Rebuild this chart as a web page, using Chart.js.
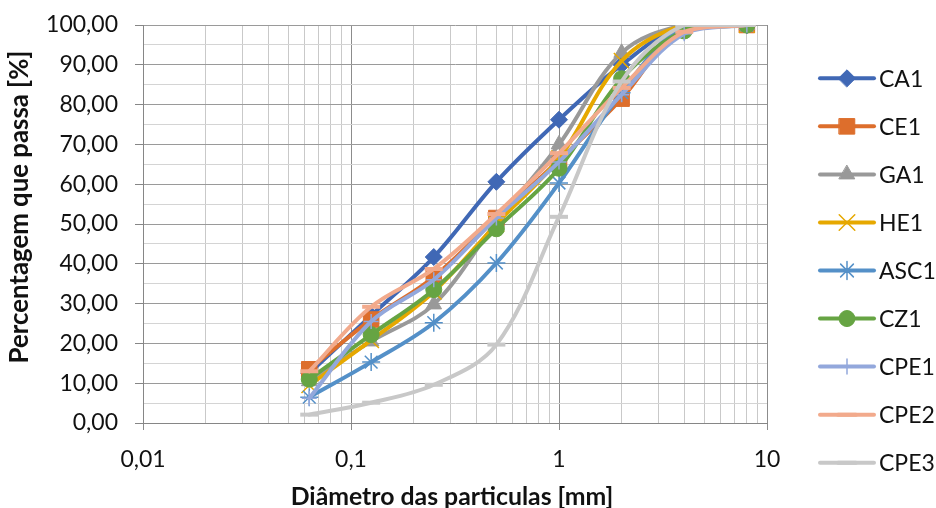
<!DOCTYPE html>
<html><head><meta charset="utf-8">
<script src="https://cdn.jsdelivr.net/npm/chart.js@4/dist/chart.umd.min.js"></script>
<style>html,body{margin:0;padding:0;background:#fff;overflow:hidden}</style>
</head><body>
<canvas id="c" width="936" height="508" style="width:936px;height:508px;display:block"></canvas>
<script>
// ---- data ----
const sieveSizes = [0.063, 0.125, 0.25, 0.5, 1, 2, 4, 8];
const seriesNames = ['CA1','CE1','GA1','HE1','ASC1','CZ1','CPE1','CPE2','CPE3'];
const CA1  = [12.5, 27.0, 41.7, 60.6, 76.2, 90.0, 100.0, 100.0];
const CE1  = [13.5, 26.0, 36.7, 51.5, 66.0, 81.5, 99.8, 100.0];
const GA1  = [10.5, 20.5, 29.8, 50.5, 70.0, 93.0, 100.0, 100.0];
const HE1  = [9.5, 20.8, 33.0, 50.0, 66.5, 91.0, 100.0, 100.0];
const ASC1 = [6.5, 15.3, 25.2, 40.2, 60.3, 83.0, 100.0, 100.0];
const CZ1  = [11.0, 22.2, 33.5, 48.8, 64.0, 86.5, 98.5, 100.0];
const CPE1 = [6.2, 25.5, 36.0, 51.5, 65.6, 82.5, 97.8, 100.0];
const CPE2 = [13.0, 29.2, 38.7, 52.5, 67.8, 84.2, 98.3, 100.0];
const CPE3 = [2.1, 5.1, 9.6, 19.7, 51.8, 85.8, 100.0, 100.0];
const xTickLabels = {0.01: '0,01', 0.1: '0,1', 1: '1', 10: '10'};
const yTickStep = 5;
const xTitle = 'Diâmetro das particulas [mm]';
const yTitle = 'Percentagem que passa [%]';

// ---- styles ----
const seriesValues = [CA1, CE1, GA1, HE1, ASC1, CZ1, CPE1, CPE2, CPE3];
const styles = [
  {color:'#4068B5', point:'rectRot',  r:8.5, bw:1},
  {color:'#DD6E2C', point:'rect',     r:11,  bw:1},
  {color:'#999999', point:'triangle', r:9,   bw:1},
  {color:'#E6A800', point:'crossRot', r:11,  bw:1.5},
  {color:'#5490C8', point:'star',     r:9,   bw:1.5},
  {color:'#66A443', point:'circle',   r:8,   bw:1},
  {color:'#93A8DC', point:'cross',    r:7.5, bw:1.5},
  {color:'#F2AA8C', point:'line',     r:9,   bw:4},
  {color:'#C8C8C8', point:'line',     r:9,   bw:4}
];
const FONT = 'Lato';

const datasets = seriesNames.map((name, i) => ({
  label: name,
  data: sieveSizes.map((x, j) => ({x: x, y: seriesValues[i][j]})),
  borderColor: styles[i].color,
  backgroundColor: styles[i].color,
  pointBackgroundColor: styles[i].color,
  pointBorderColor: styles[i].color,
  pointStyle: styles[i].point,
  pointRadius: styles[i].r,
  pointHoverRadius: styles[i].r,
  pointBorderWidth: styles[i].bw,
  borderWidth: 4,
  borderCapStyle: 'round',
  borderJoinStyle: 'round',
  tension: 0.35,
  fill: false,
  order: -i
}));

const customDraw = {
  id: 'customDraw',
  afterDraw(chart) {
    const ctx = chart.ctx;
    ctx.save();
    // legend
    const y0 = 78.3, dy = 48.05;
    ctx.font = '23px ' + FONT;
    ctx.textBaseline = 'middle';
    ctx.textAlign = 'left';
    chart.data.datasets.forEach((ds, i) => {
      const y = y0 + i * dy;
      const st = styles[i];
      ctx.strokeStyle = st.color;
      ctx.lineWidth = 4;
      ctx.lineCap = 'round';
      ctx.beginPath(); ctx.moveTo(820, y); ctx.lineTo(874, y); ctx.stroke();
      ctx.fillStyle = st.color;
      ctx.lineWidth = st.bw;
      Chart.helpers.drawPoint(ctx, {pointStyle: st.point, rotation: 0, radius: st.r, borderWidth: st.bw}, 847, y);
      ctx.fillStyle = '#111';
      ctx.fillText(ds.label, 879, y + 1);
    });
    // axis titles
    ctx.fillStyle = '#111';
    ctx.textBaseline = 'alphabetic';
    ctx.textAlign = 'center';
    ctx.font = 'bold 20px ' + FONT;
    let w = ctx.measureText(xTitle).width;
    let fs = 20 * 323 / w;
    ctx.font = 'bold ' + fs.toFixed(1) + 'px ' + FONT;
    ctx.fillText(xTitle, 452, 505);
    ctx.font = 'bold 20px ' + FONT;
    w = ctx.measureText(yTitle).width;
    fs = 20 * 313 / w;
    ctx.font = 'bold ' + fs.toFixed(1) + 'px ' + FONT;
    ctx.translate(28, 207);
    ctx.rotate(-Math.PI / 2);
    ctx.fillText(yTitle, 0, 0);
    ctx.restore();
  }
};

new Chart(document.getElementById('c'), {
  type: 'line',
  data: { datasets },
  options: {
    responsive: false,
    animation: false,
    devicePixelRatio: 1,
    layout: { padding: { top: 25, right: 169, left: 0, bottom: 0 } },
    plugins: { legend: { display: false }, tooltip: { enabled: false } },
    scales: {
      x: {
        type: 'logarithmic',
        min: 0.01, max: 10,
        afterBuildTicks(scale) {
          const t = [];
          for (let e = -2; e <= 0; e++) {
            for (let m = 1; m <= 9; m++) t.push({value: +(m * Math.pow(10, e)).toPrecision(3)});
          }
          t.push({value: 10});
          scale.ticks = t;
        },
        afterFit(scale) { scale.height = 85; scale.paddingLeft = 0; scale.paddingRight = 0; },
        ticks: {
          autoSkip: false, maxRotation: 0, minRotation: 0,
          font: { family: FONT, size: 23 }, color: '#111', padding: 16,
          callback: (v) => xTickLabels[v] !== undefined ? xTickLabels[v] : ''
        },
        grid: {
          color: (c) => (c.tick && xTickLabels[c.tick.value] !== undefined) ? '#8c8c8c' : '#c9c9c9',
          tickColor: (c) => (c.tick && xTickLabels[c.tick.value] !== undefined) ? '#8c8c8c' : 'rgba(0,0,0,0)',
          tickLength: 7, lineWidth: 1
        },
        border: { display: true, color: '#868686', width: 1 }
      },
      y: {
        min: 0, max: 100,
        afterFit(scale) { scale.width = 143; scale.paddingTop = 0; scale.paddingBottom = 0; },
        ticks: {
          stepSize: yTickStep, autoSkip: false,
          font: { family: FONT, size: 23 }, color: '#111', padding: 17,
          callback: (v) => (v % 10 === 0) ? v.toFixed(2).replace('.', ',') : ''
        },
        grid: {
          color: (c) => (c.tick && c.tick.value % 10 === 0) ? '#9a9a9a' : '#d4d4d4',
          tickColor: (c) => (c.tick && c.tick.value % 10 === 0) ? '#868686' : 'rgba(0,0,0,0)',
          tickLength: 8, lineWidth: 1
        },
        border: { display: true, color: '#868686', width: 1 }
      }
    }
  },
  plugins: [customDraw]
});
</script>
</body></html>
